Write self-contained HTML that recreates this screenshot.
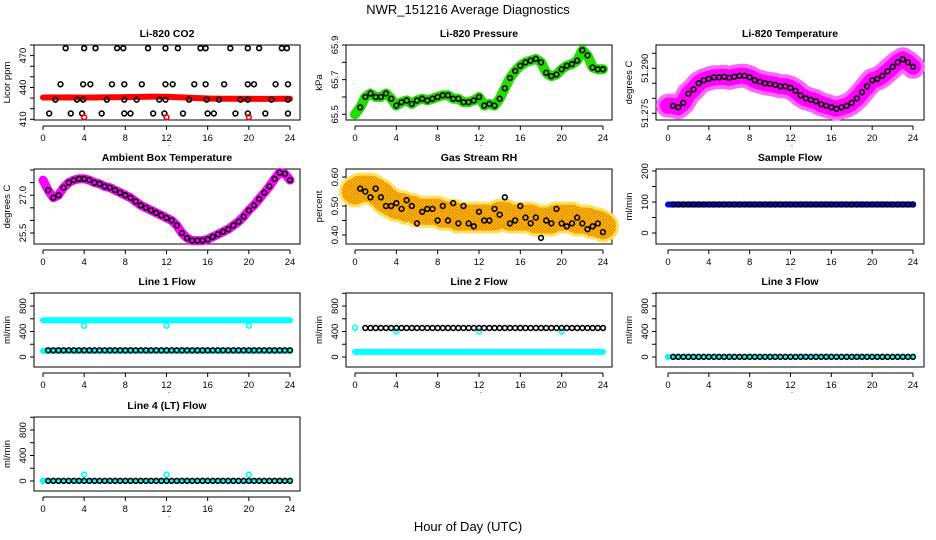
<!DOCTYPE html>
<html><head><meta charset="utf-8"><style>
html,body{margin:0;padding:0;background:#fff;}
svg{display:block;font-family:"Liberation Sans",sans-serif;}
</style></head><body>
<svg id="c" width="936" height="540" xmlns="http://www.w3.org/2000/svg">
<defs>
<pattern id="rhpat" width="3" height="3" patternUnits="userSpaceOnUse">
<rect width="3" height="3" fill="#ffd000"/>
<rect width="1.5" height="1.5" fill="#ee7700"/>
<rect x="1.5" y="1.5" width="1.5" height="1.5" fill="#ee7700"/>
</pattern>
</defs>
<text x="468" y="14" font-size="13" text-anchor="middle">NWR_151216  Average Diagnostics</text>
<text x="468" y="531" font-size="13" text-anchor="middle">Hour of Day (UTC)</text>
</svg>
<script>
// ---- data ----
const halfHours = [0,0.5,1,1.5,2,2.5,3,3.5,4,4.5,5,5.5,6,6.5,7,7.5,8,8.5,9,9.5,10,10.5,11,11.5,12,12.5,13,13.5,14,14.5,15,15.5,16,16.5,17,17.5,18,18.5,19,19.5,20,20.5,21,21.5,22,22.5,23,23.5,24];
const xTicks = [0,4,8,12,16,20,24];

const co2Line = [430.5,430.5,430.6,430.5,430.5,430.6,430.5,430.5,430.4,430.5,430.5,430.6,430.6,430.7,430.8,430.8,430.9,431,431,431.1,431.3,431.4,431.4,431.3,431.2,431,430.8,430.6,430.4,430.2,430,429.8,429.6,429.5,429.5,429.4,429.4,429.4,429.3,429.3,429.3,429.2,429.2,429.2,429.2,429.2,429.3,429.3,429.3];
const co2HiHours = [2.2,4.0,5.1,7.2,7.8,10.2,11.9,13.1,15.3,15.8,18.2,19.9,21.0,23.2,23.7];
const co2MidHours = [1.7,3.9,4.6,6.7,7.9,9.6,11.9,12.6,14.7,15.8,17.6,19.9,20.5,22.6,23.8];
const co2LowHours = [1.2,3.3,3.9,6.2,7.9,9.1,11.3,11.9,14.2,15.9,17.1,19.2,19.9,22.2,23.8];
const co2BotHours = [0.6,2.7,3.8,5.7,7.9,8.5,10.7,11.8,13.6,16.0,16.6,18.7,19.9,21.6,23.8];
const co2Levels = [477, 443, 428.5, 415.5];
const co2RedHours = [4,12,20];
const co2RedValue = 412;

const pressure = [65.50,65.54,65.60,65.62,65.60,65.60,65.62,65.59,65.55,65.57,65.58,65.56,65.58,65.59,65.58,65.59,65.60,65.61,65.61,65.59,65.59,65.57,65.57,65.58,65.60,65.55,65.56,65.55,65.59,65.65,65.71,65.75,65.78,65.80,65.81,65.82,65.80,65.74,65.72,65.73,65.76,65.78,65.79,65.81,65.87,65.84,65.77,65.76,65.76];

const liTemp = [51.2775,51.2775,51.2770,51.2785,51.2815,51.2830,51.2850,51.2860,51.2865,51.2870,51.2870,51.2872,51.2868,51.2872,51.2875,51.2875,51.2870,51.2860,51.2855,51.2850,51.2848,51.2845,51.2840,51.2840,51.2835,51.2825,51.2810,51.2800,51.2795,51.2790,51.2780,51.2775,51.2770,51.2765,51.2770,51.2775,51.2785,51.2800,51.2820,51.2840,51.2860,51.2865,51.2875,51.2890,51.2905,51.2920,51.2930,51.2920,51.2905];

const ambient = [27.6,27.2,26.9,27.0,27.3,27.5,27.6,27.65,27.65,27.6,27.5,27.45,27.35,27.3,27.2,27.1,27.0,26.9,26.75,26.6,26.5,26.4,26.3,26.2,26.1,26.0,25.8,25.5,25.3,25.2,25.2,25.2,25.25,25.35,25.45,25.55,25.65,25.8,25.95,26.15,26.4,26.6,26.85,27.1,27.35,27.65,27.9,27.85,27.6];

const rhBand = [0.55,0.56,0.56,0.56,0.55,0.54,0.52,0.51,0.50,0.50,0.49,0.49,0.48,0.48,0.48,0.48,0.48,0.47,0.47,0.47,0.46,0.46,0.46,0.46,0.46,0.46,0.46,0.46,0.47,0.47,0.46,0.46,0.46,0.46,0.46,0.45,0.45,0.45,0.45,0.46,0.46,0.46,0.46,0.45,0.45,0.45,0.44,0.44,0.43];
const rhCircles = [0.55,0.56,0.55,0.53,0.56,0.53,0.50,0.50,0.51,0.49,0.52,0.50,0.44,0.48,0.49,0.49,0.45,0.50,0.45,0.51,0.44,0.50,0.44,0.43,0.48,0.45,0.45,0.49,0.47,0.53,0.44,0.45,0.50,0.46,0.44,0.46,0.39,0.45,0.44,0.49,0.44,0.43,0.44,0.46,0.44,0.42,0.43,0.44,0.41];

const sampleFlow = 92;
const line1High = 575, line1Low = 95, line1Black = 105, line1Dip = 490;
const line2Black = 455, line2Cyan = 80, line2Dip = 400, line2Start = 460;
const line3Value = 2;
const line4Value = 2, line4Spike = 100;
const dipHours = [4,12,20];

// ---- layout ----
const svg = document.getElementById('c');
const NS = 'http://www.w3.org/2000/svg';
const cols = [{l:34,r:300,x0:43,x1:290},{l:346,r:612,x0:355,x1:603},{l:656,r:924,x0:668,x1:913}];
const rows = [{t:45,b:120},{t:169,b:244},{t:293,b:367},{t:417,b:491}];

function mk(tag, attrs, parent){
  const e = document.createElementNS(NS, tag);
  for (const k in attrs) e.setAttribute(k, attrs[k]);
  (parent||svg).appendChild(e);
  return e;
}

function panel(name, title, ci, ri, ylab, yv0, yp0, yv1, yp1, yTicks, yLabels){
  const c = cols[ci], r = rows[ri];
  const g = mk('g', {});
  
  
  const xs = h => c.x0 + (c.x1 - c.x0) * h / 24;
  const ys = v => yp0 + (yp1 - yp0) * (v - yv0) / (yv1 - yv0);
  const t = mk('text', {x:(c.l+c.r)/2, y:r.t-8, 'font-size':10.5, 'font-weight':'bold', 'text-anchor':'middle'}, g);
  t.textContent = title;
  
  
  const box = mk('rect', {x:c.l, y:r.t, width:c.r-c.l, height:r.b-r.t, fill:'none', stroke:'#000', 'stroke-width':1}, g);
  
  
  const ax = r.b + 6;
  const xa = mk('line', {x1:xs(0), x2:xs(24), y1:ax, y2:ax, stroke:'#000'}, g);
  
  
  xTicks.forEach(h => {
    mk('line', {x1:xs(h), x2:xs(h), y1:ax, y2:ax+4, stroke:'#000'}, g);
    const tl = mk('text', {x:xs(h), y:ax+15, 'font-size':9.5, 'text-anchor':'middle'}, g);
    tl.textContent = h;
    
    
  });
  const dot = mk('text', {x:(c.l+c.r)/2+2, y:ax+20, 'font-size':8, 'text-anchor':'middle'}, g);
  dot.textContent = '.';
  const yl = mk('line', {x1:c.l, x2:c.l, y1:ys(yTicks[0]), y2:ys(yTicks[yTicks.length-1]), stroke:'#000'}, g);
  
  
  yTicks.forEach((v, i) => {
    mk('line', {x1:c.l-4, x2:c.l, y1:ys(v), y2:ys(v), stroke:'#000'}, g);
    if (yLabels[i]) {
      const py = ys(v), px = c.l - 8;
      const tl = mk('text', {x:px, y:py, 'font-size':9.5, 'text-anchor':'middle', transform:`rotate(-90 ${px} ${py})`}, g);
      tl.textContent = yLabels[i];
      
      
    }
  });
  const yt = mk('text', {x:c.l-24, y:(r.t+r.b)/2, 'font-size':9.5, 'text-anchor':'middle', transform:`rotate(-90 ${c.l-24} ${(r.t+r.b)/2})`}, g);
  yt.textContent = ylab;
  
  
  return {g, xs, ys};
}

function band(p, name, hours, vals, color, w){
  const pts = hours.map((h,i) => p.xs(h).toFixed(1) + ',' + p.ys(vals[i]).toFixed(1)).join(' ');
  const e = mk('polyline', {points:pts, fill:'none', stroke:color, 'stroke-width':w, 'stroke-linecap':'round', 'stroke-linejoin':'round'}, p.g);
  
  
}
function circ(p, name, h, v, color, rad){
  const e = mk('circle', {cx:p.xs(h), cy:p.ys(v), r:rad||2.4, fill:'none', stroke:color, 'stroke-width':1.6}, p.g);
  
  
}

// Li-820 CO2
let p = panel('co2', 'Li-820 CO2', 0, 0, 'Licor ppm', 410, 119.3, 480, 45, [410,420,430,440,450,460,470,480], ['410','','','440','','','470','']);
band(p, 'co2-red-band', halfHours, co2Line, '#ff0000', 6);
[co2HiHours, co2MidHours, co2LowHours, co2BotHours].forEach((arr, k) => arr.forEach(h => circ(p, 'co2-point', h, co2Levels[k], '#000')));
co2RedHours.forEach(h => circ(p, 'co2-red-point', h, co2RedValue, '#ff0000'));

// Pressure
p = panel('pressure', 'Li-820 Pressure', 1, 0, 'kPa', 65.5, 114.3, 65.9, 45, [65.5,65.6,65.7,65.8,65.9], ['65.5','','65.7','','65.9']);
band(p, 'pressure-band', halfHours, pressure, '#22dd00', 10);
halfHours.slice(1).forEach((h,i) => circ(p, 'pressure-point', h, pressure[i+1], '#000'));

// Li temperature
p = panel('li-temp', 'Li-820 Temperature', 2, 0, 'degrees C', 51.275, 113.3, 51.295, 53.3, [51.275,51.280,51.285,51.290,51.295], ['51.275','','','51.290','']);
band(p, 'li-temp-band-outer', halfHours, liTemp, '#ff66ff', 24);
band(p, 'li-temp-band', halfHours, liTemp, '#ff00ff', 16);
halfHours.slice(1).forEach((h,i) => circ(p, 'li-temp-point', h, liTemp[i+1], '#000'));

// Ambient
p = panel('ambient', 'Ambient Box Temperature', 0, 1, 'degrees C', 25.5, 233, 28.0, 170, [25.5,26.0,26.5,27.0,27.5,28.0], ['25.5','','','27.0','','']);
band(p, 'ambient-band', halfHours, ambient, '#ff00ff', 9);
halfHours.slice(1).forEach((h,i) => circ(p, 'ambient-point', h, ambient[i+1], '#000'));

// RH
p = panel('rh', 'Gas Stream RH', 1, 1, 'percent', 0.40, 235, 0.60, 177, [0.40,0.45,0.50,0.55,0.60], ['0.40','','0.50','','0.60']);
band(p, 'rh-band-outer', halfHours, rhBand, '#ffe060', 32);
band(p, 'rh-band-inner', halfHours, rhBand, 'url(#rhpat)', 26);
halfHours.slice(1).forEach((h,i) => circ(p, 'rh-point', h, rhCircles[i+1], '#000'));

// Sample flow
p = panel('sample-flow', 'Sample Flow', 2, 1, 'ml/min', 0, 233, 200, 171, [0,50,100,150,200], ['0','','100','','200']);
band(p, 'sample-flow-band', halfHours, halfHours.map(() => sampleFlow), '#0000ff', 6);
halfHours.slice(1).forEach(h => circ(p, 'sample-flow-point', h, sampleFlow, '#000'));

const flowTicks = [0,200,400,600,800,1000], flowLabels = ['0','','400','','800',''];
// Line 1
p = panel('line1', 'Line 1 Flow', 0, 2, 'ml/min', 0, 357, 800, 306, flowTicks, flowLabels);
band(p, 'line1-cyan-high', halfHours, halfHours.map(() => line1High), '#00ffff', 6);
band(p, 'line1-cyan-low', halfHours, halfHours.map(() => line1Low), '#00ffff', 6);
dipHours.forEach(h => circ(p, 'line1-dip', h, line1Dip, '#00ffff'));
halfHours.slice(1).forEach(h => circ(p, 'line1-point', h, line1Black, '#000'));

// Line 2
p = panel('line2', 'Line 2 Flow', 1, 2, 'ml/min', 0, 357, 800, 306, flowTicks, flowLabels);
band(p, 'line2-cyan', halfHours, halfHours.map(() => line2Cyan), '#00ffff', 6);
circ(p, 'line2-start', 0, line2Start, '#00ffff');
dipHours.forEach(h => circ(p, 'line2-dip', h, line2Dip, '#00ffff'));
halfHours.slice(2).forEach(h => circ(p, 'line2-point', h, line2Black, '#000'));

// Line 3
p = panel('line3', 'Line 3 Flow', 2, 2, 'ml/min', 0, 357, 800, 306, flowTicks, flowLabels);
band(p, 'line3-cyan', halfHours, halfHours.map(() => line3Value), '#00ffff', 4);
circ(p, 'line3-start', 0, line3Value, '#00ffff');
halfHours.slice(1).forEach(h => circ(p, 'line3-point', h, line3Value, '#000'));

// Line 4
p = panel('line4', 'Line 4 (LT) Flow', 0, 3, 'ml/min', 0, 481, 800, 430, flowTicks, flowLabels);
band(p, 'line4-cyan', halfHours, halfHours.map(() => line4Value), '#00ffff', 4);
circ(p, 'line4-start', 0, line4Value, '#00ffff');
dipHours.forEach(h => circ(p, 'line4-spike', h, line4Spike, '#00ffff'));
halfHours.slice(1).forEach(h => circ(p, 'line4-point', h, line4Value, '#000'));
</script>
</body></html>
